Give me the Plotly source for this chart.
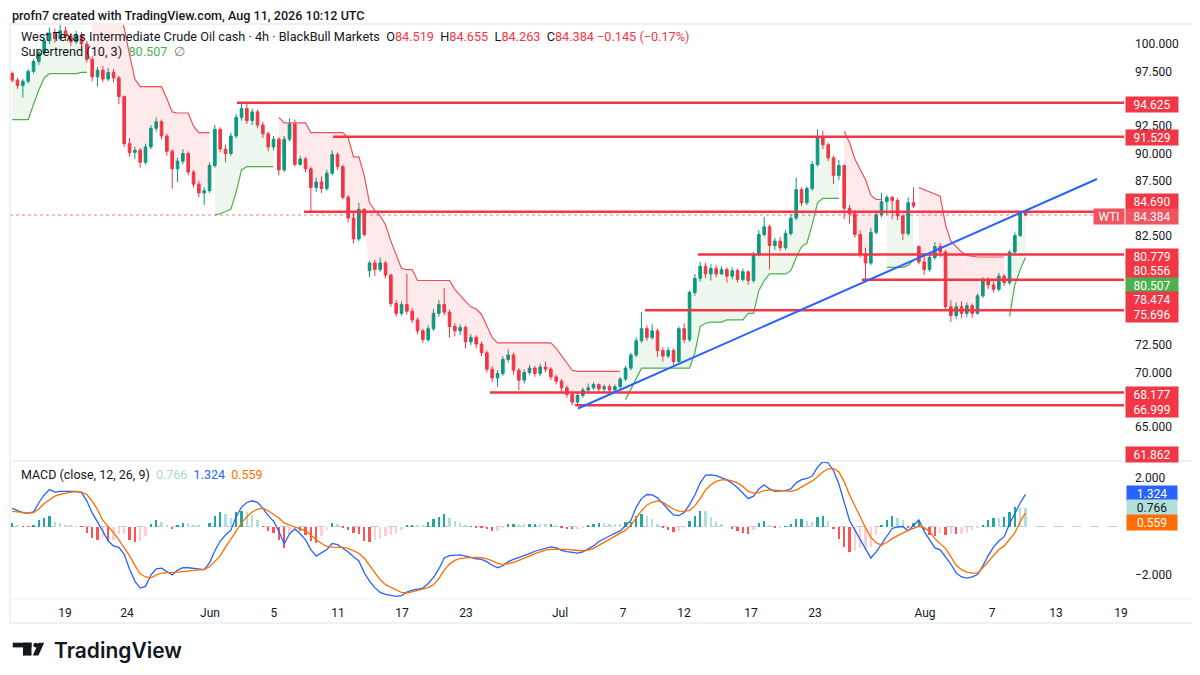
import plotly.graph_objects as go

# ---------------------------------------------------------------------------
# WTI cash, 4h chart (resampled to ~3 bars per day)
# ---------------------------------------------------------------------------
opens = [
    97.3, 96.7, 96.2, 96.6, 97.5, 98.4, 99.2, 100.3, 101.0, 100.5,
    101.2, 100.7, 100.2, 100.8, 100.0, 98.6, 97.0, 97.6, 96.8, 97.4,
    96.9, 95.2, 90.9, 90.1, 90.3, 89.2, 90.6, 92.3, 92.9, 91.6,
    90.2, 88.6, 89.3, 90.0, 88.3, 87.2, 86.4, 86.6, 88.9, 92.2,
    90.4, 90.0, 91.6, 93.3, 94.1, 93.0, 93.8, 92.6, 91.8, 90.6,
    91.3, 88.5, 91.3, 92.7, 89.0, 89.5, 88.6, 86.9, 87.4, 86.8,
    88.2, 89.9, 88.8, 86.0, 84.1, 82.2, 84.9, 79.3, 80.0, 79.4,
    80.0, 78.9, 76.3, 75.4, 76.2, 75.6, 74.8, 73.8, 73.0, 74.0,
    75.4, 76.2, 75.5, 74.2, 73.8, 74.1, 72.8, 73.2, 72.6, 71.8,
    70.3, 69.5, 69.9, 71.2, 71.6, 70.2, 69.3, 70.0, 70.4, 69.9,
    70.5, 70.3, 69.6, 69.2, 68.6, 68.0, 67.3, 67.9, 68.4, 68.6,
    68.9, 68.5, 68.7, 68.4, 68.7, 69.4, 70.4, 71.6, 72.9, 74.0,
    73.2, 73.8, 72.0, 71.5, 72.0, 71.0, 74.0, 73.0, 77.3, 78.6,
    79.7, 79.0, 79.5, 79.0, 79.4, 78.8, 79.3, 78.5, 79.2, 78.4,
    80.8, 82.6, 83.3, 81.6, 82.0, 81.4, 82.7, 84.1, 86.7, 85.5,
    86.8, 89.0, 91.5, 90.8, 89.6, 88.0, 88.9, 85.0, 84.5, 82.6,
    80.8, 80.0, 82.8, 84.4, 85.6, 86.0, 85.7, 84.3, 82.7, 85.5,
    81.5, 80.1, 79.4, 80.5, 81.5, 81.0, 76.0, 75.2, 76.0, 75.4,
    76.1, 75.4, 77.0, 78.4, 78.0, 77.6, 78.8, 78.2, 81.0, 82.5,
    84.519,
]
highs = [
    97.5, 96.9, 96.8, 97.7, 98.6, 99.5, 100.6, 101.5, 101.4, 101.8,
    101.6, 101.0, 101.2, 101.1, 100.3, 98.9, 97.9, 98.0, 97.8, 97.7,
    97.1, 95.3, 91.4, 90.6, 90.5, 90.9, 92.6, 93.3, 93.1, 91.8,
    90.4, 89.6, 90.4, 90.2, 88.5, 87.5, 86.9, 89.2, 92.6, 92.4,
    90.8, 91.9, 93.6, 94.7, 94.6, 94.1, 94.0, 92.9, 92.0, 91.6,
    91.5, 91.6, 93.2, 93.1, 89.8, 89.7, 88.8, 87.8, 87.9, 88.5,
    90.3, 90.1, 89.0, 86.2, 84.6, 85.5, 85.0, 80.2, 80.3, 80.5,
    80.2, 79.0, 76.6, 76.5, 79.0, 75.9, 75.0, 74.0, 74.3, 75.8,
    76.6, 77.7, 75.7, 74.5, 74.4, 74.3, 73.5, 73.4, 72.8, 72.0,
    70.6, 70.2, 71.5, 72.1, 71.8, 70.4, 70.3, 70.7, 70.6, 70.8,
    71.0, 70.5, 69.8, 69.4, 68.8, 68.2, 68.1, 68.6, 69.0, 69.1,
    69.0, 68.9, 68.9, 68.9, 69.6, 70.6, 71.8, 73.2, 75.5, 74.3,
    74.4, 74.0, 72.3, 72.3, 72.2, 74.2, 74.5, 77.5, 79.0, 80.1,
    80.0, 79.9, 79.8, 79.7, 79.6, 79.6, 79.5, 79.5, 79.3, 81.0,
    83.0, 84.2, 83.5, 82.3, 82.4, 83.0, 84.5, 87.8, 86.9, 87.0,
    89.3, 92.2, 92.1, 91.0, 89.8, 89.4, 89.0, 85.3, 84.8, 83.0,
    81.4, 83.2, 84.8, 86.4, 86.2, 86.1, 85.9, 84.5, 86.0, 86.9,
    81.6, 80.9, 80.8, 81.9, 81.8, 81.2, 76.6, 76.4, 76.5, 76.4,
    76.3, 77.2, 78.7, 78.7, 78.3, 79.1, 79.0, 81.2, 82.8, 84.6,
    84.655,
]
lows = [
    96.5, 95.9, 95.1, 96.4, 97.3, 98.1, 99.0, 100.0, 100.1, 100.3,
    100.3, 99.8, 100.0, 99.7, 98.3, 96.6, 96.1, 96.5, 96.6, 96.5,
    94.5, 90.6, 89.7, 89.5, 88.7, 89.0, 90.4, 92.0, 91.3, 89.8,
    86.8, 87.4, 89.0, 88.0, 86.9, 86.0, 85.3, 86.4, 88.7, 90.1,
    89.2, 89.8, 91.4, 93.0, 92.7, 92.6, 92.3, 91.4, 90.2, 90.3,
    88.0, 88.3, 91.1, 88.8, 88.9, 88.3, 84.7, 86.5, 86.4, 86.6,
    88.0, 88.5, 85.8, 83.7, 81.8, 82.0, 82.4, 78.7, 78.8, 79.2,
    78.6, 76.0, 75.1, 75.2, 75.3, 74.5, 73.5, 72.7, 72.8, 73.8,
    75.1, 75.2, 73.2, 73.3, 73.4, 72.2, 72.5, 72.2, 71.5, 70.0,
    69.1, 68.7, 69.7, 70.9, 69.8, 68.4, 69.0, 69.8, 69.6, 69.7,
    70.0, 69.3, 68.9, 68.3, 67.7, 67.0, 66.95, 67.7, 68.2, 68.4,
    68.2, 68.2, 68.1, 68.2, 68.5, 69.2, 70.2, 71.4, 72.7, 72.9,
    73.0, 71.4, 71.0, 71.3, 70.7, 70.9, 72.7, 72.8, 77.0, 78.3,
    78.6, 78.4, 78.7, 78.9, 78.2, 78.5, 78.2, 78.3, 78.0, 78.2,
    80.6, 82.4, 79.4, 81.2, 81.1, 81.2, 82.5, 83.9, 85.2, 85.3,
    86.6, 88.8, 90.4, 89.3, 87.2, 87.6, 84.0, 83.6, 82.3, 80.5,
    78.4, 79.8, 82.6, 84.2, 84.4, 84.0, 83.9, 82.1, 82.5, 85.0,
    79.9, 78.9, 79.2, 80.3, 80.5, 75.8, 74.6, 74.9, 75.0, 75.1,
    75.0, 75.3, 76.8, 77.6, 77.3, 77.4, 77.9, 78.0, 80.8, 82.4,
    84.263,
]
closes = [
    96.7, 96.2, 96.6, 97.5, 98.4, 99.2, 100.3, 101.0, 100.5, 101.2,
    100.7, 100.2, 100.8, 100.0, 98.6, 97.0, 97.6, 96.8, 97.4, 96.9,
    95.2, 90.9, 90.1, 90.3, 89.2, 90.6, 92.3, 92.9, 91.6, 90.2,
    88.6, 89.3, 90.0, 88.3, 87.2, 86.4, 86.6, 88.9, 92.2, 90.4,
    90.0, 91.6, 93.3, 94.1, 93.0, 93.8, 92.6, 91.8, 90.6, 91.3,
    88.5, 91.3, 92.7, 89.0, 89.5, 88.6, 86.9, 87.4, 86.8, 88.2,
    89.9, 88.8, 86.0, 84.1, 82.2, 84.9, 82.6, 80.0, 79.4, 80.0,
    78.9, 76.3, 75.4, 76.2, 75.6, 74.8, 73.8, 73.0, 74.0, 75.4,
    76.2, 75.5, 74.2, 73.8, 74.1, 72.8, 73.2, 72.6, 71.8, 70.3,
    69.5, 69.9, 71.2, 71.6, 70.2, 69.3, 70.0, 70.4, 69.9, 70.5,
    70.3, 69.6, 69.2, 68.6, 68.0, 67.3, 67.9, 68.4, 68.6, 68.9,
    68.5, 68.7, 68.4, 68.7, 69.4, 70.4, 71.6, 72.9, 74.0, 73.2,
    73.8, 72.0, 71.5, 72.0, 71.0, 74.0, 73.0, 77.3, 78.6, 79.7,
    79.0, 79.5, 79.0, 79.4, 78.8, 79.3, 78.5, 79.2, 78.4, 80.8,
    82.6, 83.3, 81.6, 82.0, 81.4, 82.7, 84.1, 86.7, 85.5, 86.8,
    89.0, 91.5, 90.8, 89.6, 88.0, 88.9, 85.0, 84.5, 82.6, 80.8,
    80.0, 82.8, 84.4, 85.6, 86.0, 85.7, 84.3, 82.7, 85.5, 85.2,
    80.1, 79.4, 80.5, 81.5, 81.0, 76.0, 75.2, 76.0, 75.4, 76.1,
    75.4, 77.0, 78.4, 78.0, 77.6, 78.8, 78.2, 81.0, 82.5, 84.529,
    84.384,
]

# Supertrend (10, 3): line value and direction (1 = up/green, -1 = down/red)
st_values = [
    93.1, 93.1, 93.1, 93.1, 94.5, 95.8, 96.9, 97.3, 97.3, 97.3,
    97.3, 97.3, 97.3, 97.4, 97.4, 103.5, 103.3, 103.3, 103.3, 103.3,
    103.0, 101.5, 99.0, 96.8, 96.1, 96.1, 96.1, 96.1, 96.1, 95.0,
    93.8, 93.7, 93.7, 93.7, 92.5, 91.9, 91.9, 91.9, 84.4, 84.5,
    84.7, 84.9, 86.5, 88.5, 88.8, 88.8, 88.8, 88.8, 88.8, 88.8,
    93.3, 92.8, 92.8, 92.8, 92.8, 92.8, 91.9, 91.9, 91.9, 91.9,
    91.9, 91.9, 91.9, 91.4, 89.7, 89.7, 88.0, 85.5, 84.8, 84.3,
    83.5, 82.0, 80.8, 79.5, 79.4, 79.4, 78.4, 78.4, 78.4, 78.4,
    78.4, 78.4, 78.4, 77.6, 77.0, 76.5, 76.0, 75.8, 75.3, 74.3,
    73.2, 72.7, 72.7, 72.7, 72.7, 72.7, 72.7, 72.7, 72.7, 72.7,
    72.7, 72.7, 72.2, 71.5, 70.8, 70.2, 70.1, 70.1, 70.1, 70.1,
    70.1, 70.1, 70.1, 70.1, 70.1, 67.5, 68.5, 69.5, 70.4, 70.4,
    70.4, 70.4, 70.4, 70.4, 70.4, 70.4, 70.4, 70.4, 71.8, 74.2,
    74.5, 74.6, 74.6, 74.6, 74.8, 74.8, 74.8, 74.8, 75.4, 75.4,
    77.5, 78.4, 79.0, 79.0, 79.0, 79.0, 79.3, 80.5, 81.5, 81.8,
    83.5, 85.5, 85.9, 85.9, 85.9, 85.9, 92.0, 91.0, 89.5, 88.5,
    87.6, 86.2, 85.8, 85.8, 79.6, 79.6, 79.6, 79.6, 79.8, 80.3,
    86.9, 86.7, 86.5, 86.3, 86.1, 83.5, 82.0, 81.5, 81.0, 80.7,
    80.6, 80.55, 80.55, 80.55, 80.55, 80.55, 80.55, 75.1, 78.0, 79.4,
    80.507,
]
st_dirs = [
    1, 1, 1, 1, 1, 1, 1, 1, 1, 1,
    1, 1, 1, 1, 1, -1, -1, -1, -1, -1,
    -1, -1, -1, -1, -1, -1, -1, -1, -1, -1,
    -1, -1, -1, -1, -1, -1, -1, -1, 1, 1,
    1, 1, 1, 1, 1, 1, 1, 1, 1, 1,
    -1, -1, -1, -1, -1, -1, -1, -1, -1, -1,
    -1, -1, -1, -1, -1, -1, -1, -1, -1, -1,
    -1, -1, -1, -1, -1, -1, -1, -1, -1, -1,
    -1, -1, -1, -1, -1, -1, -1, -1, -1, -1,
    -1, -1, -1, -1, -1, -1, -1, -1, -1, -1,
    -1, -1, -1, -1, -1, -1, -1, -1, -1, -1,
    -1, -1, -1, -1, -1, 1, 1, 1, 1, 1,
    1, 1, 1, 1, 1, 1, 1, 1, 1, 1,
    1, 1, 1, 1, 1, 1, 1, 1, 1, 1,
    1, 1, 1, 1, 1, 1, 1, 1, 1, 1,
    1, 1, 1, 1, 1, 1, -1, -1, -1, -1,
    -1, -1, -1, -1, 1, 1, 1, 1, 1, 1,
    -1, -1, -1, -1, -1, -1, -1, -1, -1, -1,
    -1, -1, -1, -1, -1, -1, -1, 1, 1, 1,
    1,
]

# MACD (close, 12, 26, 9)
macd_line = [
    0.75, 0.65, 0.56, 0.55, 0.60, 0.98, 1.30, 1.52, 1.42, 1.45,
    1.46, 1.46, 1.45, 1.40, 1.05, 0.56, 0.15, -0.20, -0.60, -0.80,
    -0.86, -1.15, -1.75, -2.25, -2.54, -2.47, -2.00, -1.75, -1.72, -1.85,
    -2.00, -1.80, -1.70, -1.70, -1.72, -1.76, -1.78, -1.50, -1.00, -0.60,
    -0.35, -0.15, 0.40, 0.80, 0.99, 1.06, 1.00, 0.75, 0.45, 0.22,
    -0.20, -0.72, -0.30, -0.10, -0.30, -0.55, -0.95, -1.22, -1.10, -0.95,
    -0.70, -0.75, -0.90, -1.05, -1.25, -1.42, -1.90, -2.25, -2.52, -2.72,
    -2.80, -2.85, -2.88, -2.85, -2.70, -2.62, -2.58, -2.54, -2.35, -2.10,
    -1.75, -1.30, -1.20, -1.18, -1.17, -1.22, -1.28, -1.33, -1.36, -1.45,
    -1.60, -1.70, -1.62, -1.45, -1.36, -1.28, -1.23, -1.12, -1.02, -0.95,
    -0.88, -0.84, -0.88, -0.98, -1.04, -1.08, -1.10, -1.05, -0.92, -0.80,
    -0.62, -0.50, -0.40, -0.28, -0.18, 0.02, 0.25, 0.80, 1.15, 1.32,
    1.30, 1.18, 0.92, 0.70, 0.48, 0.45, 0.58, 0.90, 1.30, 1.80,
    2.12, 2.13, 2.10, 2.02, 1.92, 1.78, 1.60, 1.38, 1.15, 1.25,
    1.55, 1.72, 1.55, 1.45, 1.45, 1.48, 1.55, 1.80, 1.93, 1.98,
    2.08, 2.45, 2.67, 2.62, 2.30, 1.75, 1.00, 0.25, -0.15, -0.55,
    -0.95, -1.30, -1.05, -0.72, -0.40, -0.08, -0.02, 0.00, -0.18, 0.05,
    0.27, -0.20, -0.55, -0.88, -0.96, -1.25, -1.55, -1.92, -2.08, -2.13,
    -2.08, -1.98, -1.62, -1.20, -0.85, -0.60, -0.42, 0.10, 0.55, 0.97,
    1.324,
]
signal_line = [
    0.62, 0.60, 0.57, 0.56, 0.57, 0.72, 0.95, 1.10, 1.25, 1.32,
    1.38, 1.42, 1.44, 1.42, 1.32, 1.05, 0.70, 0.25, 0.00, -0.25,
    -0.55, -0.85, -1.20, -1.60, -1.95, -2.08, -2.12, -2.00, -1.92, -1.90,
    -1.90, -1.88, -1.86, -1.83, -1.80, -1.79, -1.78, -1.65, -1.45, -1.20,
    -0.85, -0.50, -0.20, 0.15, 0.40, 0.60, 0.72, 0.76, 0.65, 0.50,
    0.35, 0.15, 0.05, -0.02, -0.10, -0.18, -0.35, -0.55, -0.70, -0.82,
    -0.85, -0.85, -0.86, -0.90, -1.00, -1.10, -1.30, -1.60, -1.95, -2.20,
    -2.40, -2.50, -2.62, -2.72, -2.75, -2.70, -2.65, -2.58, -2.52, -2.40,
    -2.15, -1.80, -1.55, -1.40, -1.32, -1.29, -1.27, -1.27, -1.28, -1.33,
    -1.42, -1.52, -1.57, -1.54, -1.48, -1.40, -1.32, -1.22, -1.12, -1.04,
    -0.97, -0.94, -0.93, -0.93, -0.94, -0.97, -1.00, -1.00, -0.97, -0.90,
    -0.78, -0.65, -0.52, -0.40, -0.28, -0.15, 0.05, 0.35, 0.65, 0.88,
    1.00, 1.06, 1.00, 0.85, 0.72, 0.63, 0.62, 0.66, 0.85, 1.15,
    1.50, 1.72, 1.86, 1.92, 1.92, 1.88, 1.80, 1.65, 1.45, 1.38,
    1.40, 1.48, 1.51, 1.50, 1.48, 1.46, 1.45, 1.50, 1.62, 1.75,
    1.88, 2.05, 2.25, 2.38, 2.40, 2.25, 1.85, 1.30, 0.85, 0.35,
    -0.05, -0.45, -0.68, -0.76, -0.65, -0.50, -0.38, -0.25, -0.15, -0.08,
    0.00, -0.05, -0.20, -0.50, -0.70, -0.90, -1.25, -1.60, -1.78, -1.88,
    -1.92, -1.92, -1.70, -1.45, -1.20, -0.95, -0.80, -0.50, -0.25, 0.20,
    0.559,
]

# drawn levels (price, first trading day of the ray) and the blue trendline
level_prices = [94.625, 91.529, 84.690, 80.779, 78.474, 75.696, 68.177, 66.999]
level_start_days = [11.75, 17.75, 15.94, 40.56, 50.81, 37.25, 27.56, 32.88]
trend_days = [33.06, 65.5]
trend_prices = [66.71, 87.67]
last_price = 84.384

# time axis: trading-day index (0 = Mon 18 May) and label
tick_days = [1, 4.875, 10.06, 14.06, 18.06, 22.06, 26.06, 31.94,
             35.88, 39.69, 43.88, 47.88, 54.75, 58.94, 62.94, 67.0]
tick_labels = ["19", "24", "Jun", "5", "11", "17", "23", "Jul",
               "7", "12", "17", "23", "Aug", "7", "13", "19"]
price_ticks = [65, 70, 72.5, 82.5, 87.5, 90, 92.5, 97.5, 100]
macd_ticks = [2, -2]
macd_tick_text = ["2.000", "\u22122.000"]

# ---------------------------------------------------------------------------
RED = "#f23645"
UP = "#089981"
ST_GREEN = "#4caf50"
ST_RED = "#f0505c"
BLUE = "#2962ff"
ORANGE = "#ff6d00"
TEXT = "#131722"
FONT = "Roboto, 'Noto Sans', sans-serif"

# geometry in screen pixels (the page body adds an 8px margin)
OFF = 8
FIG_W, FIG_H = 1200 - 2 * OFF, 675 - 2 * OFF
PANE_L, PANE_R = 10, 1124
PANE_T, PANE_B = 25, 598
PRICE_B, MACD_T = 460, 462


def px(x):
    return (x - PANE_L) / (PANE_R - PANE_L)


def py(y):
    return (PANE_B - y) / (PANE_B - PANE_T)


def day_at(x):
    return (x - 49.0) / 16.0


def price_at(y):
    return 100 - (y - 44) / 10.95


def macd_at(y):
    return (526.5 - y) / 24.25


n = len(closes)
bar_days = [-2.3 + i / 3 for i in range(n)]
x_lo, x_hi = day_at(PANE_L), day_at(PANE_R)

fig = go.Figure()

# supertrend fills (between line and candle body middle), one pair per run
runs = []
start = 0
for i in range(1, n + 1):
    if i == n or st_dirs[i] != st_dirs[start]:
        runs.append((start, i, st_dirs[start]))
        start = i

for a, b, d in runs:
    xs = bar_days[a:b]
    mids = [(opens[k] + closes[k]) / 2 for k in range(a, b)]
    fill = "rgba(76,175,80,0.10)" if d > 0 else "rgba(242,54,69,0.11)"
    fig.add_trace(go.Scatter(x=xs, y=mids, mode="lines", line=dict(width=0),
                             hoverinfo="skip", showlegend=False))
    fig.add_trace(go.Scatter(x=xs, y=st_values[a:b], mode="lines",
                             line=dict(width=0), fill="tonexty",
                             fillcolor=fill, hoverinfo="skip",
                             showlegend=False))

fig.add_trace(go.Candlestick(
    x=bar_days, open=opens, high=highs, low=lows, close=closes,
    increasing=dict(line=dict(color=UP, width=1), fillcolor=UP),
    decreasing=dict(line=dict(color=RED, width=1), fillcolor=RED),
    whiskerwidth=0, hoverinfo="skip", showlegend=False,
))

for a, b, d in runs:
    fig.add_trace(go.Scatter(x=bar_days[a:b], y=st_values[a:b], mode="lines",
                             line=dict(color=ST_GREEN if d > 0 else ST_RED,
                                       width=1.2),
                             hoverinfo="skip", showlegend=False))

for p, d0 in zip(level_prices, level_start_days):
    fig.add_trace(go.Scatter(x=[d0, x_hi], y=[p, p], mode="lines",
                             line=dict(color=RED, width=2.5),
                             hoverinfo="skip", showlegend=False))

fig.add_trace(go.Scatter(x=trend_days, y=trend_prices, mode="lines",
                         line=dict(color=BLUE, width=2),
                         hoverinfo="skip", showlegend=False))

# MACD pane
hist = [m - s for m, s in zip(macd_line, signal_line)]
hist_colors = []
prev = 0.0
for h in hist:
    if h >= 0:
        hist_colors.append("#26a69a" if h > prev else "#b2dfdb")
    else:
        hist_colors.append("#ffcdd2" if h > prev else "#ff5252")
    prev = h

fig.add_trace(go.Bar(x=bar_days, y=hist, marker=dict(color=hist_colors, line=dict(width=0)),
                     width=0.14, xaxis="x2", yaxis="y2",
                     hoverinfo="skip", showlegend=False))
fig.add_trace(go.Scatter(x=bar_days, y=macd_line, mode="lines",
                         line=dict(color=BLUE, width=1.3), xaxis="x2",
                         yaxis="y2", hoverinfo="skip", showlegend=False))
fig.add_trace(go.Scatter(x=bar_days, y=signal_line, mode="lines",
                         line=dict(color=ORANGE, width=1.3), xaxis="x2",
                         yaxis="y2", hoverinfo="skip", showlegend=False))

# ---------------------------------------------------------------------------
shapes = [
    # current price dotted line
    dict(type="line", xref="paper", yref="y", x0=0, x1=1,
         y0=last_price, y1=last_price,
         line=dict(color="rgba(242,54,69,0.65)", width=1, dash="dot")),
    # MACD zero line
    dict(type="line", xref="paper", yref="y2", x0=0, x1=1, y0=0, y1=0,
         line=dict(color="#c9ccd4", width=1, dash="dash"), layer="below"),
    # frame and pane separators
    dict(type="rect", xref="paper", yref="paper", x0=px(10), x1=px(1195),
         y0=py(623), y1=py(24), line=dict(color="#e0e3eb", width=1)),
    dict(type="line", xref="paper", yref="paper", x0=px(10), x1=px(1195),
         y0=py(461), y1=py(461), line=dict(color="#e0e3eb", width=1)),
    dict(type="line", xref="paper", yref="paper", x0=px(10), x1=px(1195),
         y0=py(599), y1=py(599), line=dict(color="#eef0f3", width=1)),
    # TradingView logo mark
    dict(type="rect", xref="paper", yref="paper", x0=px(12.7), x1=px(31.5),
         y0=py(647.4), y1=py(642.7), fillcolor=TEXT, line=dict(width=0)),
    dict(type="rect", xref="paper", yref="paper", x0=px(23), x1=px(31.5),
         y0=py(655.6), y1=py(642.7), fillcolor=TEXT, line=dict(width=0)),
    dict(type="circle", xref="paper", yref="paper", x0=px(33.4), x1=px(38.2),
         y0=py(647.6), y1=py(642.8), fillcolor=TEXT, line=dict(width=0)),
    dict(type="path", xref="paper", yref="paper",
         path=(f"M {px(38.6)},{py(642.7)} L {px(44.2)},{py(642.7)} "
               f"L {px(38.4)},{py(655.6)} L {px(32.8)},{py(655.6)} Z"),
         fillcolor=TEXT, line=dict(width=0)),
]


def tag(text, x_left, y_mid, bg, fg="white", width=50):
    return dict(text=text, xref="paper", yref="paper", x=px(x_left),
                y=py(y_mid), xanchor="left", yanchor="middle",
                showarrow=False, bgcolor=bg, borderpad=1, width=width,
                height=13, align="center",
                font=dict(family=FONT, size=12, color=fg))


def text_at(text, x_left, y_mid, size=12, color=TEXT, weight=400,
            family=FONT):
    return dict(text=text, xref="paper", yref="paper", x=px(x_left),
                y=py(y_mid), xanchor="left", yanchor="middle",
                showarrow=False, align="left",
                font=dict(family=family, size=size, color=color, weight=weight))


def red(v):
    return f"<span style='color:{RED}'>{v}</span>"


legend1 = ("West Texas Intermediate Crude Oil cash \u00b7 4h \u00b7 BlackBull Markets"
           f"&nbsp;&nbsp;O{red(f'{opens[-1]:.3f}')}&nbsp;&nbsp;H{red(f'{highs[-1]:.3f}')}"
           f"&nbsp;&nbsp;L{red(f'{lows[-1]:.3f}')}&nbsp;&nbsp;C{red(f'{closes[-1]:.3f}')}"
           f"&nbsp;{red(chr(0x2212) + '0.145 (' + chr(0x2212) + '0.17%)')}")
legend2 = (f"Supertrend (10, 3)&nbsp;&nbsp;<span style='color:{ST_GREEN}'>"
           f"{st_values[-1]:.3f}</span>&nbsp;&nbsp;<span style='color:#787b86'>\u2205</span>")
legend3 = ("MACD (close, 12, 26, 9)&nbsp;&nbsp;<span style='color:#a8d8d2'>0.766</span>"
           f"&nbsp;&nbsp;<span style='color:{BLUE}'>1.324</span>"
           f"&nbsp;&nbsp;<span style='color:{ORANGE}'>0.559</span>")

annotations = [
    text_at("profn7 created with TradingView.com, Aug 11, 2026 10:12 UTC",
            10, 15.5, size=12.6, weight=500),
    text_at(legend1, 19, 36, size=12.7),
    text_at(legend2, 19, 51, size=12.7),
    text_at(legend3, 19, 474, size=12.5),
    text_at("TradingView", 52, 650, size=21, weight=600,
            family="Inter, Roboto, sans-serif"),
]

axis_tags = [("94.625", 104, RED), ("91.529", 137.7, RED),
             ("84.690", 201.7, RED), ("84.384", 216.7, "#f0545f"),
             ("80.779", 256, RED), ("80.556", 270.5, RED),
             ("80.507", 285, ST_GREEN), ("78.474", 299.5, RED),
             ("75.696", 314, RED), ("68.177", 394.5, RED),
             ("66.999", 409, RED), ("61.862", 454, RED)]
for txt, yy, col in axis_tags:
    annotations.append(tag(txt, 1125, yy, col))
annotations.append(tag("WTI", 1093, 216.7, "#f0545f", width=28))
annotations.append(tag("1.324", 1126, 493, BLUE, width=48))
annotations.append(tag("0.766", 1126, 507.5, "#b2dfdb", fg=TEXT, width=48))
annotations.append(tag("0.559", 1126, 522, ORANGE, width=48))

axis_font = dict(family=FONT, size=12, color=TEXT)
fig.update_layout(
    width=FIG_W, height=FIG_H,
    margin=dict(l=PANE_L - OFF, r=OFF + FIG_W - PANE_R,
                t=PANE_T - OFF, b=OFF + FIG_H - PANE_B),
    paper_bgcolor="white", plot_bgcolor="white",
    showlegend=False, hovermode=False, bargap=0,
    xaxis=dict(domain=[0, 1], range=[x_lo, x_hi], anchor="y",
               showticklabels=False, showgrid=False, zeroline=False,
               rangeslider=dict(visible=False), fixedrange=True),
    xaxis2=dict(domain=[0, 1], range=[x_lo, x_hi], anchor="y2", matches="x",
                tickvals=tick_days, ticktext=tick_labels, ticks="",
                tickfont=axis_font, showgrid=False, zeroline=False,
                ticklabelstandoff=6),
    yaxis=dict(domain=[py(PRICE_B), 1], range=[price_at(PRICE_B), price_at(PANE_T)],
               side="right", anchor="x", tickvals=price_ticks,
               ticktext=[f"{v:.3f}" for v in price_ticks], ticks="",
               tickfont=axis_font, showgrid=False, zeroline=False,
               ticklabelstandoff=10),
    yaxis2=dict(domain=[0, py(MACD_T)], range=[macd_at(PANE_B), macd_at(MACD_T)],
                side="right", anchor="x2", tickvals=macd_ticks,
                ticktext=macd_tick_text, ticks="", tickfont=axis_font,
                showgrid=False, zeroline=False, ticklabelstandoff=10),
    shapes=shapes,
    annotations=annotations,
)

fig.write_html("out.html")
